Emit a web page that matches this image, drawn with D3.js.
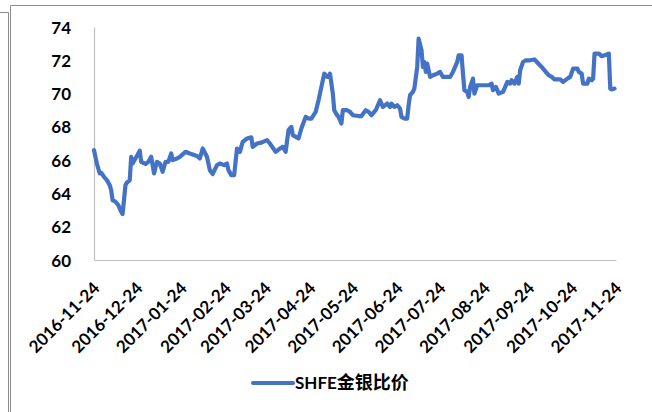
<!DOCTYPE html>
<html>
<head>
<meta charset="utf-8">
<script src="https://cdn.jsdelivr.net/npm/d3@7"></script>
<style>
html,body{margin:0;padding:0;background:#fff;}
svg{display:block;}
</style>
</head>
<body>
<svg id="chart" width="652" height="412"></svg>
<script>
const seriesName = "SHFE金银比价";
const dates = [
"2016-11-24","2016-11-26","2016-11-28","2016-11-29","2016-12-01","2016-12-03","2016-12-05","2016-12-06","2016-12-07","2016-12-09",
"2016-12-11","2016-12-13","2016-12-14","2016-12-16","2016-12-17","2016-12-19","2016-12-20","2016-12-21","2016-12-23","2016-12-26",
"2016-12-27","2016-12-30","2017-01-01","2017-01-03","2017-01-05","2017-01-07","2017-01-09","2017-01-11","2017-01-13","2017-01-15",
"2017-01-17","2017-01-18","2017-01-21","2017-01-23","2017-01-27","2017-01-30","2017-02-04","2017-02-06","2017-02-08","2017-02-11",
"2017-02-13","2017-02-15","2017-02-18","2017-02-20","2017-02-23","2017-02-25","2017-02-26","2017-02-28","2017-03-02","2017-03-04",
"2017-03-06","2017-03-08","2017-03-11","2017-03-14","2017-03-15","2017-03-18","2017-03-21","2017-03-25","2017-03-27","2017-03-31",
"2017-04-03","2017-04-05","2017-04-07","2017-04-09","2017-04-11","2017-04-12","2017-04-16","2017-04-18","2017-04-21","2017-04-23",
"2017-04-25","2017-04-28","2017-04-30","2017-05-02","2017-05-04","2017-05-06","2017-05-07","2017-05-08","2017-05-10","2017-05-11",
"2017-05-13","2017-05-14","2017-05-16","2017-05-17","2017-05-20","2017-05-22","2017-05-24","2017-05-28","2017-05-30","2017-06-02",
"2017-06-04","2017-06-06","2017-06-09","2017-06-12","2017-06-14","2017-06-17","2017-06-19","2017-06-20","2017-06-22","2017-06-24",
"2017-06-26","2017-06-27","2017-06-29","2017-07-01","2017-07-02","2017-07-03","2017-07-05","2017-07-06","2017-07-08","2017-07-09",
"2017-07-11","2017-07-12","2017-07-13","2017-07-14","2017-07-15","2017-07-17","2017-07-19","2017-07-22","2017-07-24","2017-07-26",
"2017-07-29","2017-07-31","2017-08-02","2017-08-05","2017-08-06","2017-08-08","2017-08-09","2017-08-10","2017-08-12","2017-08-13",
"2017-08-14","2017-08-16","2017-08-17","2017-08-19","2017-08-22","2017-08-27","2017-08-29","2017-08-30","2017-09-01","2017-09-03",
"2017-09-06","2017-09-07","2017-09-09","2017-09-11","2017-09-12","2017-09-14","2017-09-16","2017-09-17","2017-09-18","2017-09-20",
"2017-09-22","2017-09-25","2017-09-28","2017-10-03","2017-10-08","2017-10-10","2017-10-12","2017-10-16","2017-10-18","2017-10-21",
"2017-10-23","2017-10-25","2017-10-28","2017-10-29","2017-10-31","2017-11-01","2017-11-04","2017-11-05","2017-11-07","2017-11-08",
"2017-11-09","2017-11-12","2017-11-14","2017-11-16","2017-11-19","2017-11-20","2017-11-21","2017-11-23"
];
const values = [
66.6,65.8,65.2,65.25,65.0,64.8,64.5,64.2,63.6,63.5,
63.3,62.9,62.76,64.5,64.65,64.8,66.2,65.8,66.1,66.57,
65.9,65.77,65.9,66.2,65.2,65.9,65.8,65.3,65.9,65.9,
66.4,66.0,66.1,66.2,66.5,66.4,66.25,66.1,66.7,66.2,
65.4,65.17,65.7,65.8,65.7,65.8,65.4,65.1,65.1,66.7,
66.5,67.1,67.3,67.37,66.8,67.0,67.05,67.2,67.0,66.5,
66.7,66.8,66.5,67.8,68.0,67.5,67.3,67.9,68.6,68.5,
68.5,68.9,69.6,70.4,71.2,71.0,71.0,71.2,70.0,69.0,
68.7,68.6,68.2,69.0,69.0,68.9,68.7,68.65,68.65,69.0,
68.9,68.7,69.0,69.6,69.2,69.4,69.2,69.4,69.2,69.3,
69.1,68.6,68.5,68.5,69.3,69.9,70.1,70.3,71.6,73.3,
72.6,71.6,71.9,71.3,71.8,71.0,71.1,71.2,71.3,71.0,
71.0,71.0,71.3,71.9,72.3,72.3,71.2,70.2,70.1,69.8,
70.4,70.9,70.0,70.5,70.5,70.5,70.6,70.2,70.4,70.0,
70.1,70.3,70.7,70.6,70.8,70.6,71.0,70.6,71.4,71.9,
72.0,72.0,72.05,71.6,71.1,71.0,70.85,70.85,70.7,70.9,
71.0,71.5,71.5,71.3,71.2,70.6,70.6,70.9,70.8,70.9,
72.4,72.4,72.25,72.3,72.4,70.3,70.25,70.3
];
const xTickLabels = ["2016-11-24","2016-12-24","2017-01-24","2017-02-24","2017-03-24","2017-04-24","2017-05-24","2017-06-24","2017-07-24","2017-08-24","2017-09-24","2017-10-24","2017-11-24"];
const yTicks = [60,62,64,66,68,70,72,74];

const parse = d3.utcParse("%Y-%m-%d");
const data = dates.map((d,i)=>({date:parse(d), value:values[i]}));

const svg = d3.select("#chart");
const frameColor = "#8c8c8c";

// outer frames
svg.append("path").attr("d","M0,12.5H8.5V412").attr("fill","none").attr("stroke",frameColor).attr("stroke-width",1);
svg.append("path").attr("d","M10.5,412V5.5H652").attr("fill","none").attr("stroke",frameColor).attr("stroke-width",1);

const x = d3.scaleUtc().domain([parse(xTickLabels[0]), parse(xTickLabels[xTickLabels.length-1])]).range([94,616]);
const y = d3.scaleLinear().domain([60,74]).range([260,27]);

const font = "Lato, 'Noto Sans', sans-serif";

// y axis
const yAxis = svg.append("g").attr("transform","translate(94,0)")
  .call(d3.axisLeft(y).tickValues(yTicks).tickSize(0).tickPadding(23).tickFormat(d3.format("d")));
yAxis.select(".domain").attr("stroke","#bfbfbf").attr("stroke-width",1.2);
yAxis.selectAll("text").attr("font-family",font).attr("font-weight","bold").attr("font-size","17px").attr("fill","#000").attr("dy","0.36em");

// x axis
const xAxis = svg.append("g").attr("transform","translate(0,260)")
  .call(d3.axisBottom(x).tickValues(xTickLabels.map(parse)).tickSize(0).tickFormat(d3.utcFormat("%Y-%m-%d")));
xAxis.select(".domain").attr("stroke","#bfbfbf").attr("stroke-width",1.2);
xAxis.selectAll("text")
  .attr("font-family",font).attr("font-weight","bold").attr("font-size","17px").attr("fill","#000")
  .attr("text-anchor","end").attr("y",0).attr("dy","0.35em")
  .attr("transform","translate(2,25) rotate(-45)");

// line
const line = d3.line().x(d=>x(d.date)).y(d=>y(d.value));
svg.append("path").datum(data).attr("d",line)
  .attr("fill","none").attr("stroke","#4472C4").attr("stroke-width",4.2)
  .attr("stroke-linejoin","round").attr("stroke-linecap","round");

// legend
const lg = svg.append("g").attr("transform","translate(253,383)");
lg.append("line").attr("x1",0).attr("x2",40).attr("y1",0).attr("y2",0)
  .attr("stroke","#4472C4").attr("stroke-width",4.2).attr("stroke-linecap","round");
const lt = lg.append("text").attr("x",42).attr("y",0).attr("dy","0.36em")
  .attr("font-weight","bold").attr("fill","#000");
lt.append("tspan").attr("font-family",font).attr("font-size","17px").text(seriesName.slice(0,4));
lt.append("tspan").attr("font-family","'Noto Sans CJK SC', sans-serif").attr("font-size","18px").text(seriesName.slice(4));
</script>
</body>
</html>
